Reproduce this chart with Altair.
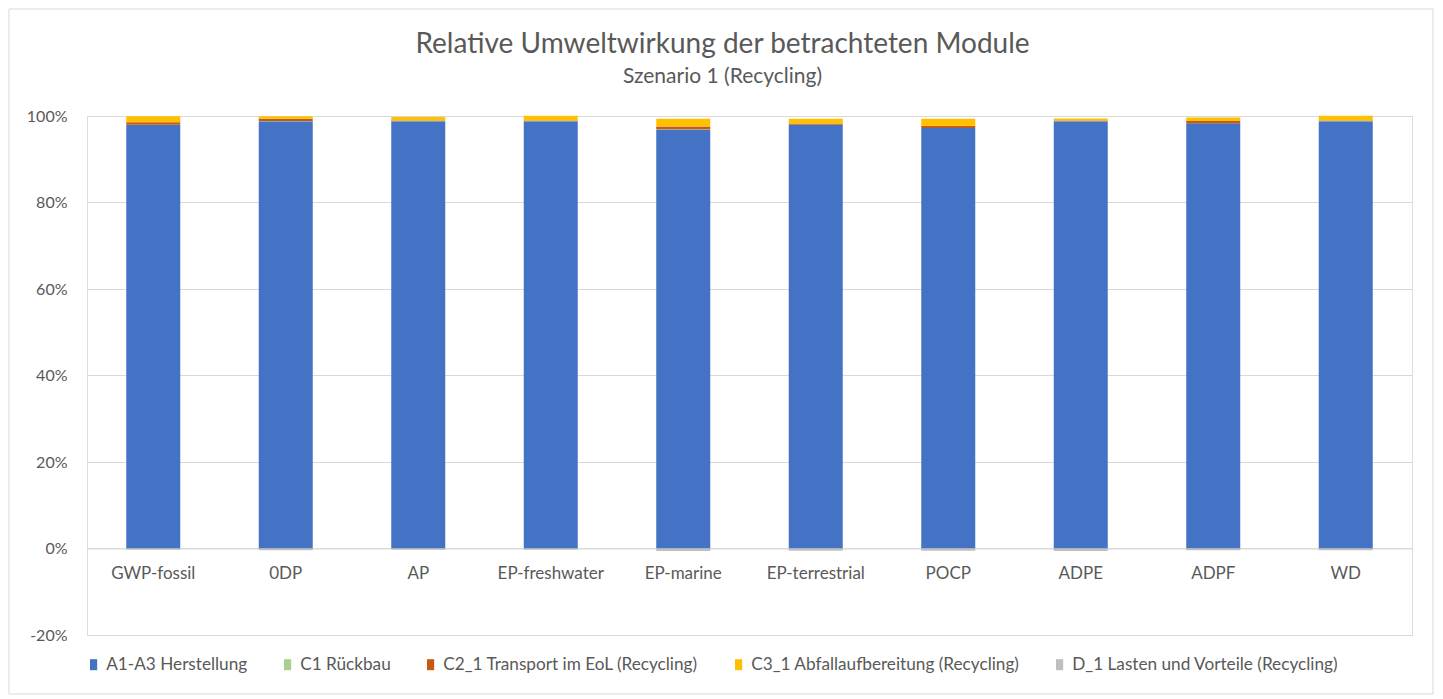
import altair as alt
import pandas as pd

categories = ["GWP-fossil", "0DP", "AP", "EP-freshwater", "EP-marine",
              "EP-terrestrial", "POCP", "ADPE", "ADPF", "WD"]
series = ["A1-A3 Herstellung", "C1 Rückbau", "C2_1 Transport im EoL (Recycling)",
          "C3_1 Abfallaufbereitung (Recycling)", "D_1 Lasten und Vorteile (Recycling)"]
colors = ["#4472C4", "#A9D18E", "#C55A11", "#FFC000", "#BFBFBF"]

a1 = [97.9, 98.8, 98.8, 98.8, 96.9, 97.9, 97.2, 98.8, 98.3, 98.8]
c1 = [0.05, 0.05, 0.05, 0.05, 0.05, 0.05, 0.05, 0.05, 0.05, 0.05]
c2 = [0.6, 0.5, 0.1, 0.1, 0.6, 0.3, 0.5, 0.1, 0.5, 0.1]
c3 = [1.4, 0.6, 0.8, 1.1, 1.8, 1.1, 1.6, 0.5, 0.8, 1.1]
d1 = [-0.3, -0.4, -0.3, -0.3, -0.6, -0.5, -0.5, -0.6, -0.4, -0.4]

rows = []
for si, vals in enumerate([a1, c1, c2, c3, d1]):
    for ci, cat in enumerate(categories):
        rows.append({"Kategorie": cat, "Modul": series[si], "ord": si, "Wert": vals[ci] / 100})
df = pd.DataFrame(rows)

FONT = "Lato"
TXT = "#595959"
W, H = 1325, 519

bars = alt.Chart(df).mark_bar(size=54).encode(
    x=alt.X("Kategorie:N", sort=categories, title=None,
            axis=alt.Axis(labelAngle=0, offset=-H / 6, ticks=False, domain=True,
                          domainColor="#D9D9D9", labelPadding=17, labelFontSize=17,
                          labelColor=TXT, labelFont=FONT, grid=False)),
    y=alt.Y("Wert:Q", stack="zero", title=None,
            scale=alt.Scale(domain=[-0.2, 1.0], nice=False),
            axis=alt.Axis(format=".0%", values=[-0.2, 0, 0.2, 0.4, 0.6, 0.8, 1.0],
                          labelExpr="replace(datum.label, '\u2212', '-')",
                          ticks=False, domain=False, gridColor="#D9D9D9",
                          labelPadding=20, labelFontSize=16, labelColor=TXT, labelFont=FONT)),
    color=alt.Color("Modul:N", sort=series,
                    scale=alt.Scale(domain=series, range=colors),
                    legend=alt.Legend(title=None, orient="none", direction="horizontal",
                                      legendX=-2, legendY=540,
                                      symbolType="M-0.65,-1H0.65V1H-0.65Z",
                                      symbolSize=121, symbolStrokeWidth=0,
                                      labelFontSize=17.2, labelColor=TXT, labelFont=FONT,
                                      columnPadding=31, labelOffset=4, labelLimit=400)),
    order=alt.Order("ord:Q"),
)

border = alt.Chart(pd.DataFrame({"k": [0]})).mark_rect(
    fill=None, stroke="#D9D9D9", strokeWidth=1, clip=False
).encode(x=alt.value(-78), x2=alt.value(W + 21), y=alt.value(-107), y2=alt.value(H + 59))

chart = alt.layer(border, bars).properties(
    width=W, height=H,
    title=alt.TitleParams(
        text="Relative Umweltwirkung der betrachteten Module",
        subtitle="Szenario 1 (Recycling)",
        anchor="middle", frame="group", dx=-27, font=FONT, fontSize=28, fontWeight="normal",
        color=TXT, subtitleFont=FONT, subtitleFontSize=21, subtitleColor=TXT,
        subtitlePadding=7, offset=-78,
    ),
    autosize=alt.AutoSizeParams(type="none"),
    padding={"left": 79, "top": 108, "right": 23, "bottom": 60},
).configure_view(stroke=None).configure(background="white")

chart.save("out.html", embed_options={"renderer": "svg", "actions": False})
